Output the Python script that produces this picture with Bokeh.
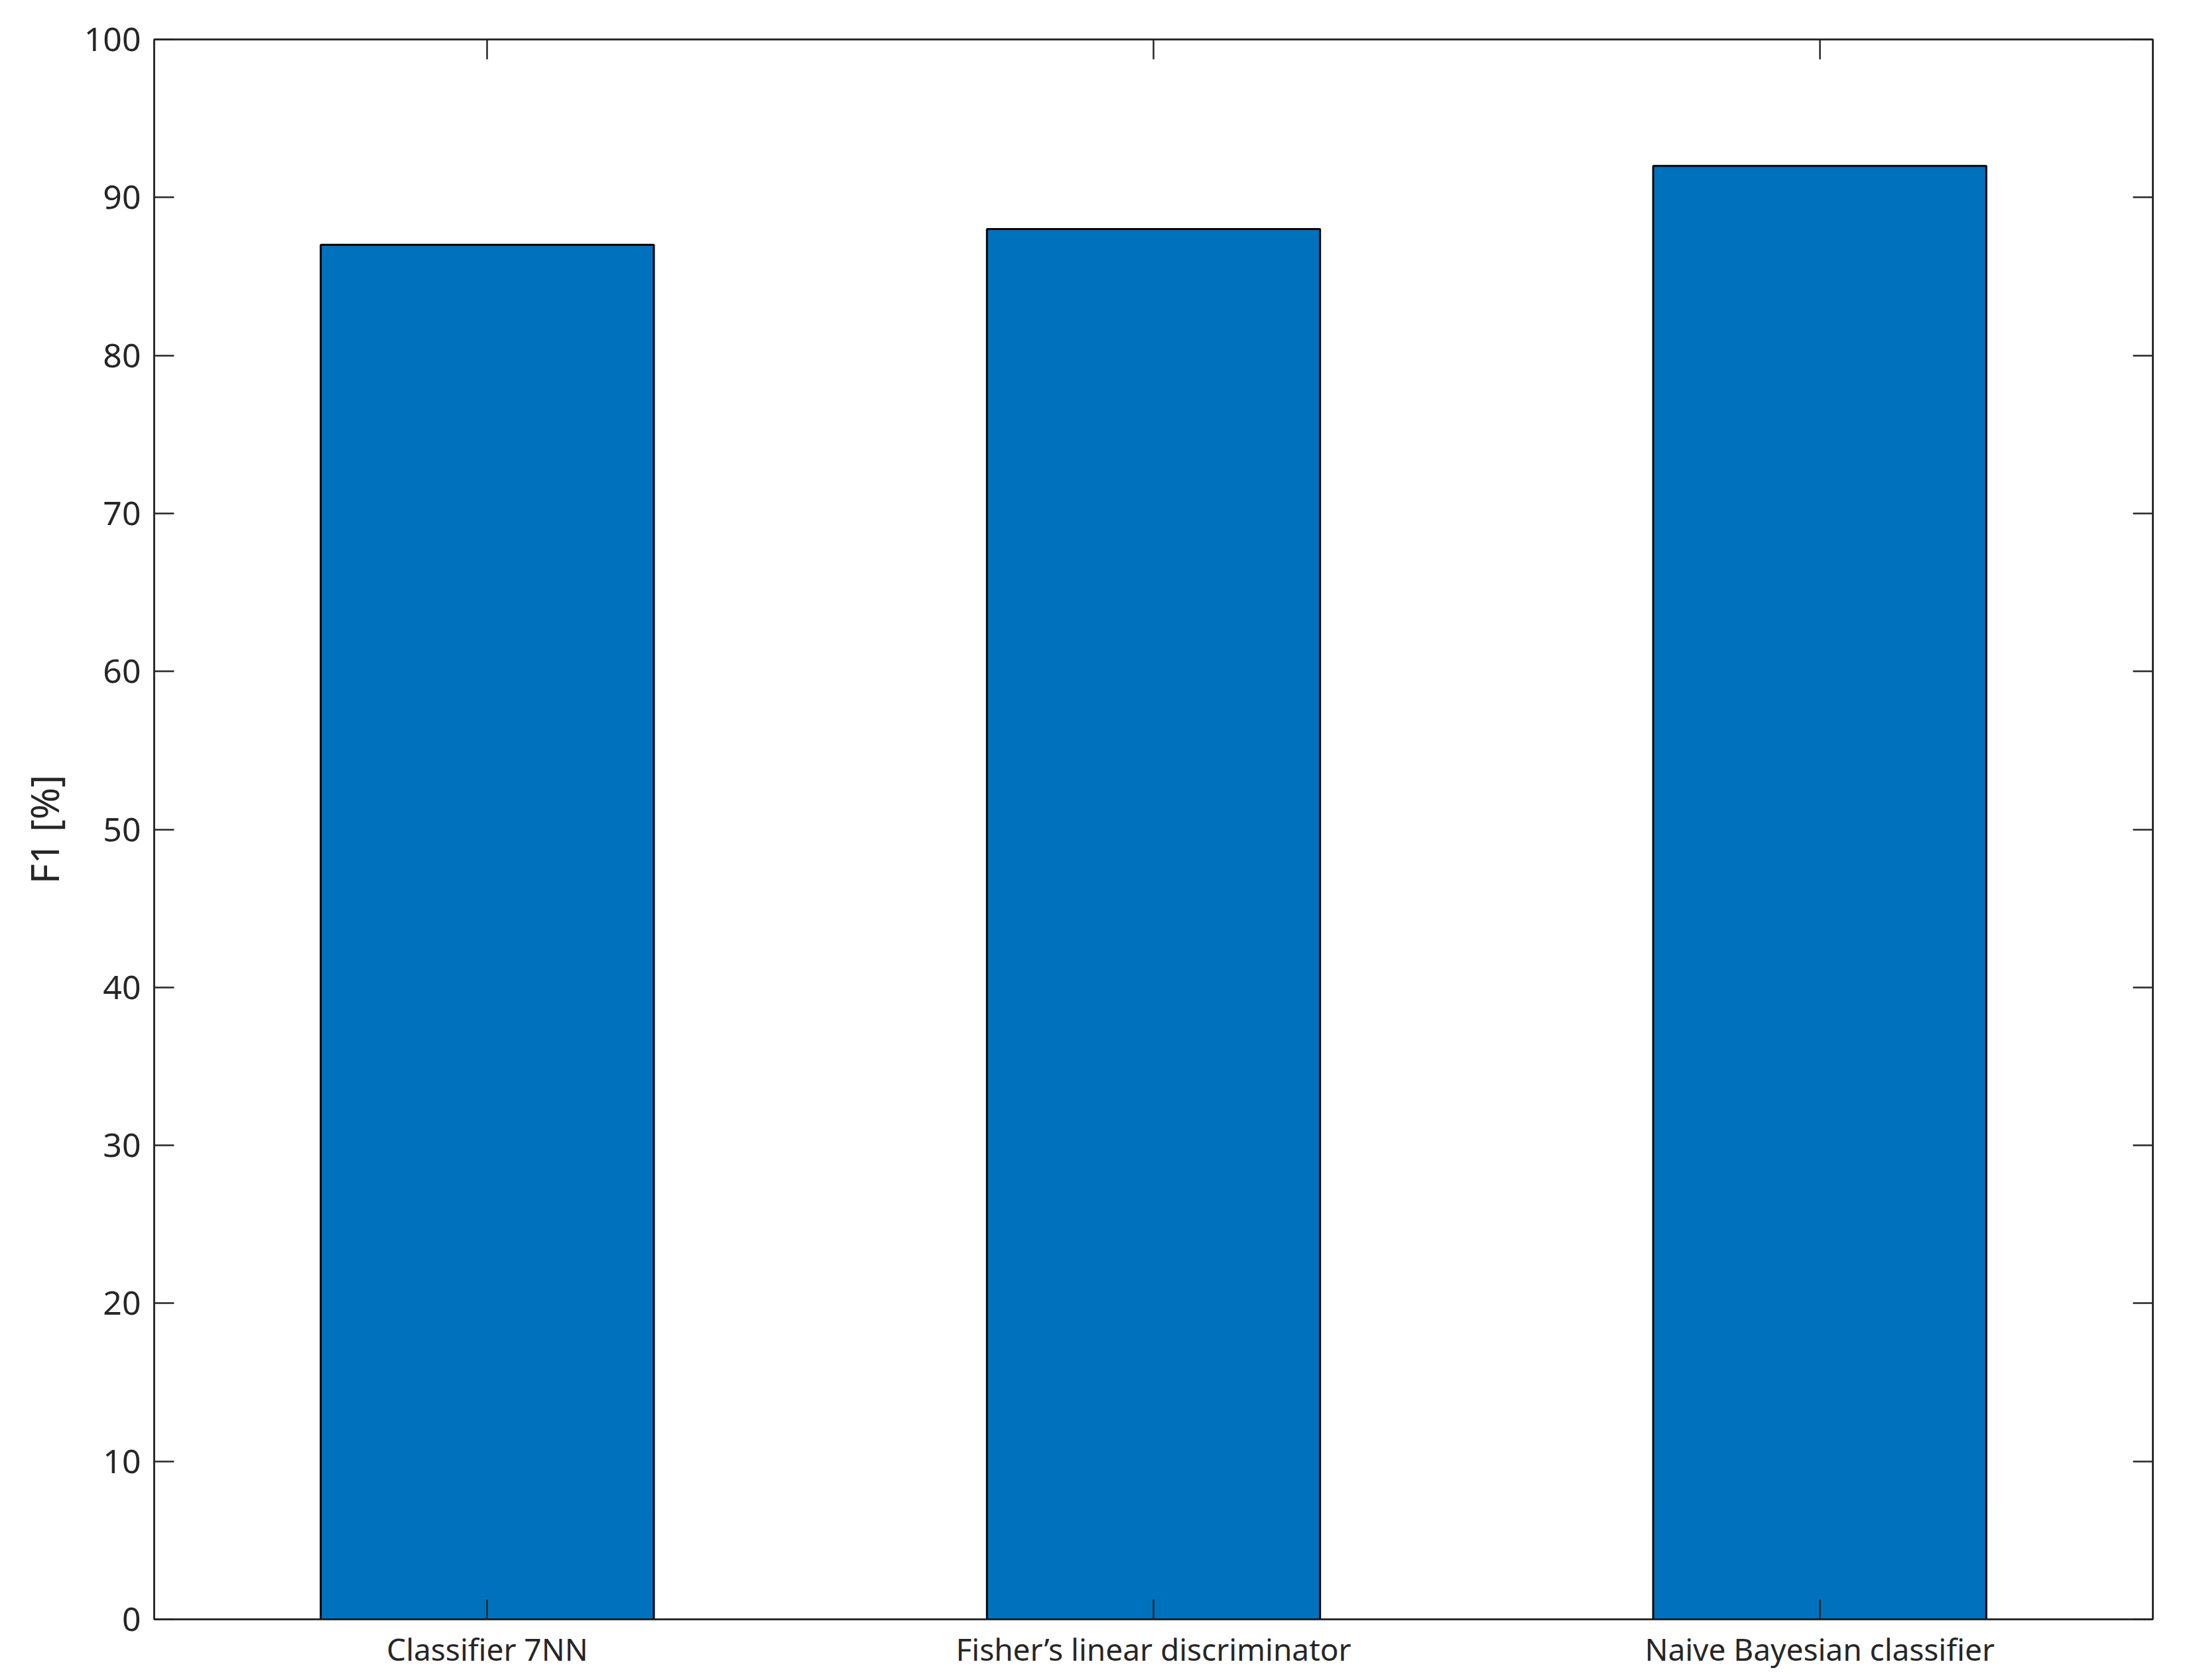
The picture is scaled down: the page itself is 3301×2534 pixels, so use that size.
from bokeh.plotting import figure
from bokeh.models import FactorRange, Range1d, CategoricalAxis, LinearAxis, FixedTicker, ColumnDataSource
from bokeh.embed import file_html
from bokeh.resources import INLINE

categories = ["Classifier 7NN", "Fisher\u2019s linear discriminator", "Naive Bayesian classifier"]
f1_values = [87, 88, 92]
y_ticks = [0, 10, 20, 30, 40, 50, 60, 70, 80, 90, 100]
y_label = "F1 [%]"

AX = "#262626"
FONT = "Noto Sans"

src = ColumnDataSource(dict(cat=categories, val=f1_values))

p = figure(width=3293, height=2526,
           x_range=FactorRange(*categories), y_range=Range1d(0, 100),
           output_backend="svg", toolbar_location=None,
           min_border_left=232, min_border_right=47,
           min_border_top=59, min_border_bottom=84,
           background_fill_color="white", border_fill_color="white")

p.vbar(x="cat", top="val", width=0.5, source=src,
       fill_color="#0072BD", line_color="black", line_width=3)

p.xgrid.visible = False
p.ygrid.visible = False
p.outline_line_color = AX
p.outline_line_width = 2.5

def style(ax):
    ax.axis_line_color = AX
    ax.axis_line_width = 2.5
    ax.major_tick_in = 30
    ax.major_tick_out = 0
    ax.major_tick_line_color = AX
    ax.major_tick_line_width = 2.5
    ax.minor_tick_line_color = None
    ax.major_label_text_color = AX
    ax.major_label_text_font = FONT

# bottom axis
xa = p.xaxis[0]
style(xa)
xa.major_label_text_font_size = "46px"
xa.major_label_standoff = 13

# left axis
ya = p.yaxis[0]
style(ya)
ya.ticker = FixedTicker(ticks=y_ticks)
ya.major_label_text_font_size = "50px"
ya.major_label_standoff = 20
ya.axis_label = y_label
ya.axis_label_text_font = FONT
ya.axis_label_text_font_size = "58px"
ya.axis_label_text_font_style = "normal"
ya.axis_label_text_color = AX
ya.axis_label_standoff = 18

# top axis (ticks only)
top = CategoricalAxis()
style(top)
top.major_label_overrides = {c: "" for c in categories}
top.major_label_text_font_size = "1px"
top.major_label_text_alpha = 0
p.add_layout(top, "above")

# right axis (ticks only)
right = LinearAxis(ticker=FixedTicker(ticks=y_ticks))
style(right)
right.major_label_overrides = {t: "" for t in y_ticks}
right.major_label_text_font_size = "1px"
right.major_label_text_alpha = 0
p.add_layout(right, "right")

open("out.html", "w").write(file_html(p, INLINE))
